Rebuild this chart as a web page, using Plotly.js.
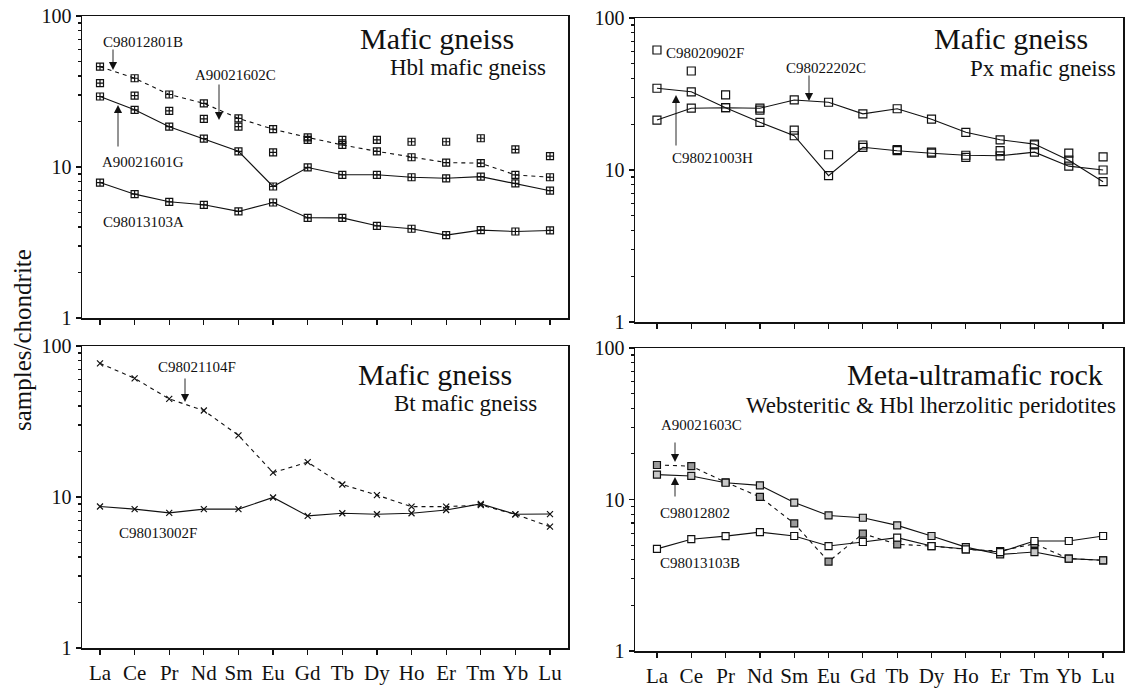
<!DOCTYPE html>
<html>
<head>
<meta charset="utf-8">
<script src="https://cdn.plot.ly/plotly-3.0.1.min.js"></script>
<style>
html,body{margin:0;padding:0;background:#fff;}
#chart{width:1128px;height:689px;}
</style>
</head>
<body>
<div id="chart"></div>
<script>
// ---- data ----
const REE = ['La','Ce','Pr','Nd','Sm','Eu','Gd','Tb','Dy','Ho','Er','Tm','Yb','Lu'];

// Top-left: Hbl mafic gneiss
const C98012801B = [46.2, 38.7, 30.2, 26.4, 21.0, 17.8, 15.7, 14.0, 12.7, 11.6, 10.7, 10.6, 8.86, 8.55];
const A90021602C = [35.9, 29.7, 23.5, 20.8, 18.5, 12.5, 15.1, 15.1, 15.1, 14.7, 14.7, 15.5, 13.1, 11.8];
const A90021601G = [29.3, 23.9, 18.5, 15.4, 12.7, 7.43, 9.93, 8.88, 8.88, 8.55, 8.42, 8.63, 7.80, 6.97];
const C98013103A = [7.89, 6.61, 5.88, 5.62, 5.08, 5.82, 4.61, 4.60, 4.08, 3.90, 3.54, 3.82, 3.74, 3.80];

// Top-right: Px mafic gneiss
const C98022202C = [21.3, 25.5, 25.7, 25.5, 28.9, 27.9, 23.4, 25.3, 21.6, 17.7, 15.8, 14.8, 11.6, 8.38];
const C98021003H = [34.5, 32.7, 25.7, 20.6, 16.8, 9.17, 14.1, 13.4, 12.9, 12.5, 12.4, 13.1, 10.6, 10.0];
const C98020902F = [61.6, 44.8, 31.2, 24.8, 18.3, 12.6, 14.6, 13.6, 13.1, 12.1, 13.4, 14.6, 12.9, 12.2];

// Bottom-left: Bt mafic gneiss
const C98021104F = [76.8, 61.1, 44.6, 37.4, 25.6, 14.5, 17.0, 12.1, 10.3, 8.63, 8.63, 8.85, 7.68, 6.36];
const C98013002F = [8.65, 8.31, 7.85, 8.31, 8.31, 9.93, 7.50, 7.81, 7.69, 7.80, 8.20, 9.00, 7.68, 7.71];

// Bottom-right: Meta-ultramafic rock
const C98012802  = [14.6, 14.3, 12.9, 12.4, 9.55, 7.85, 7.58, 6.75, 5.74, 4.85, 4.34, 4.50, 4.07, 3.97];
const A90021603C = [16.9, 16.6, 13.0, 10.4, 6.95, 3.89, 5.95, 5.06, 4.93, 4.69, 4.57, 5.10, 4.07, 3.97];
const C98013103B = [4.72, 5.47, 5.73, 6.09, 5.74, 4.93, 5.24, 5.60, 4.93, 4.69, 4.50, 5.32, 5.32, 5.74];

// ---- styles ----
const FONT = 'Liberation Serif';
const INK = '#111';
const W = 1128, H = 689;
const px = v => v / W;
const py = v => 1 - v / H;

function tr(y, xa, ya, symbol, mode, dash, fill, size) {
  return {
    x: REE, y: y, xaxis: xa, yaxis: ya, type: 'scatter', mode: mode,
    line: {color: INK, width: 1.1, dash: dash},
    marker: {symbol: symbol, size: size || 7, color: fill || INK,
             line: {color: INK, width: 1.2}},
    hoverinfo: 'skip'
  };
}

const traces = [
  tr(C98012801B, 'x', 'y', 'square-cross-open', 'lines+markers', '4px,4px'),
  tr(A90021602C, 'x', 'y', 'square-cross-open', 'markers', 'solid'),
  tr(A90021601G, 'x', 'y', 'square-cross-open', 'lines+markers', 'solid'),
  tr(C98013103A, 'x', 'y', 'square-cross-open', 'lines+markers', 'solid'),

  tr(C98022202C, 'x2', 'y2', 'square-open', 'lines+markers', 'solid', INK, 8),
  tr(C98021003H, 'x2', 'y2', 'square-open', 'lines+markers', 'solid', INK, 8),
  tr(C98020902F, 'x2', 'y2', 'square-open', 'markers', 'solid', INK, 8),

  tr(C98021104F, 'x3', 'y3', 'x-thin-open', 'lines+markers', '4px,4px', INK, 6),
  tr(C98013002F, 'x3', 'y3', 'x-thin-open', 'lines+markers', 'solid', INK, 6),

  tr(A90021603C, 'x4', 'y4', 'square', 'lines+markers', '4px,4px', '#9a9a9a', 7),
  tr(C98012802,  'x4', 'y4', 'square', 'lines+markers', 'solid', '#c8c8c8', 7),
  tr(C98013103B, 'x4', 'y4', 'square', 'lines+markers', 'solid', '#ffffff', 7)
];

const minorVals = [];
[1, 10].forEach(d => { for (let k = 2; k <= 9; k++) minorVals.push(k * d); });

function xax(dom, range, labels) {
  return {
    domain: dom, range: range, type: 'category',
    showline: true, linecolor: INK, linewidth: 1.5, mirror: true,
    ticks: 'outside', ticklen: 5, tickcolor: INK, tickwidth: 1.2,
    showgrid: false, zeroline: false, showticklabels: labels,
    tickfont: {family: FONT, size: 21, color: INK}, fixedrange: true
  };
}
function yax(dom, anchor) {
  return {
    domain: dom, anchor: anchor, type: 'log', range: [0, 2],
    tickmode: 'array', tickvals: [1, 10, 100], ticktext: ['1', '10', '100'],
    showline: true, linecolor: INK, linewidth: 1.5, mirror: true,
    ticks: 'outside', ticklen: 5, tickcolor: INK, tickwidth: 1.2,
    minor: {ticks: 'outside', ticklen: 3, tickcolor: INK, tickmode: 'array', tickvals: minorVals, showgrid: false},
    showgrid: false, zeroline: false,
    tickfont: {family: FONT, size: 20, color: INK}, fixedrange: true
  };
}

const LX = [px(82), px(568)], RX = [px(635), px(1123)];
const layout = {
  width: W, height: H,
  margin: {l: 0, r: 0, t: 0, b: 0},
  paper_bgcolor: '#fff', plot_bgcolor: '#fff',
  showlegend: false,
  font: {family: FONT, color: INK},
  xaxis:  Object.assign(xax(LX, [-0.52, 13.52], false), {anchor: 'y'}),
  yaxis:  yax([py(318), py(16)], 'x'),
  xaxis2: Object.assign(xax(RX, [-0.64, 13.58], false), {anchor: 'y2'}),
  yaxis2: yax([py(322), py(18)], 'x2'),
  xaxis3: Object.assign(xax(LX, [-0.52, 13.52], true), {anchor: 'y3'}),
  yaxis3: yax([py(648), py(346)], 'x3'),
  xaxis4: Object.assign(xax(RX, [-0.64, 13.58], true), {anchor: 'y4'}),
  yaxis4: yax([py(651), py(348)], 'x4'),
  annotations: []
};

const A = layout.annotations;
function label(text, x, y, size, anchor) {
  A.push({text: text, xref: 'paper', yref: 'paper', x: px(x), y: py(y),
          xanchor: anchor || 'center', yanchor: 'middle', showarrow: false,
          font: {family: FONT, size: size, color: INK}});
}
function arrow(x, tipY, tailY) {
  A.push({text: '', xref: 'paper', yref: 'paper', x: px(x), y: py(tipY),
          ax: 0, ay: tailY - tipY, showarrow: true, arrowhead: 2, arrowsize: 1.8,
          arrowwidth: 0.9, arrowcolor: INK, standoff: 0});
}

// panel headings
label('Mafic gneiss', 516, 38, 30, 'right');
label('Hbl mafic gneiss', 548, 68, 23, 'right');
label('Mafic gneiss', 1090, 39, 30, 'right');
label('Px mafic gneiss', 1118, 69, 23, 'right');
label('Mafic gneiss', 514, 375, 30, 'right');
label('Bt mafic gneiss', 539, 403, 23, 'right');
label('Meta-ultramafic rock', 1105, 375, 30, 'right');
label('Websteritic & Hbl lherzolitic peridotites', 1118, 405, 23, 'right');

// sample labels
label('C98012801B', 143, 42, 15);
label('A90021602C', 235, 75, 15);
label('A90021601G', 143, 162, 15);
label('C98013103A', 143, 222, 15);
label('C98020902F', 705, 53, 15);
label('C98022202C', 826, 68, 15);
label('C98021003H', 712, 158, 15);
label('C98021104F', 197, 367, 15);
label('C98013002F', 158, 533, 15);
label('A90021603C', 701, 425, 15);
label('C98012802', 695, 513, 15);
label('C98013103B', 700, 563, 15);

// arrows
arrow(113, 70, 48);
arrow(219, 120, 83);
arrow(118, 105, 148);
arrow(809, 101, 74);
arrow(676, 95, 147);
arrow(185, 402, 377);
arrow(675, 462, 441);
arrow(675, 477, 498);

// y-axis title
A.push({text: 'samples/chondrite', xref: 'paper', yref: 'paper', x: px(22), y: py(340),
        xanchor: 'center', yanchor: 'middle', textangle: -90, showarrow: false,
        font: {family: FONT, size: 25, color: INK}});

Plotly.newPlot('chart', traces, layout, {staticPlot: true, displayModeBar: false});
</script>
</body>
</html>
